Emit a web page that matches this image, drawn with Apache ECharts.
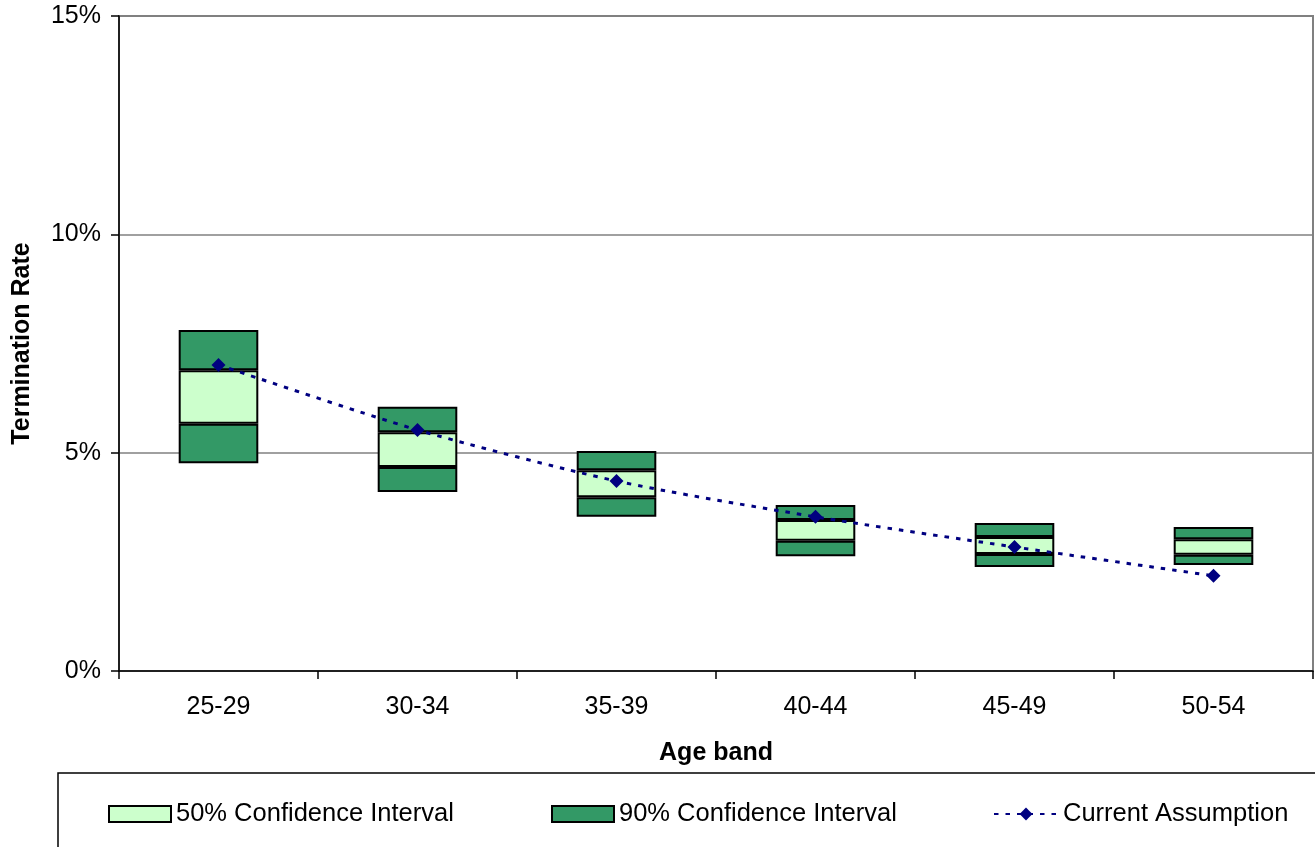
<!DOCTYPE html>
<html><head><meta charset="utf-8">
<script src="https://cdn.jsdelivr.net/npm/echarts@6/dist/echarts.min.js"></script>
<style>html,body{margin:0;padding:0;background:#fff}#c{width:1315px;height:847px}</style>
</head><body><div id="c"></div>
<script>
var categories = ['25-29','30-34','35-39','40-44','45-49','50-54'];
var lower90 = [4.76, 4.10, 3.53, 2.63, 2.38, 2.43];
var lower50 = [5.66, 4.67, 3.98, 2.98, 2.68, 2.66];
var upper50 = [6.89, 5.47, 4.60, 3.46, 3.07, 3.02];
var upper90 = [7.81, 6.05, 5.04, 3.80, 3.39, 3.30];
var current = [7.01, 5.52, 4.35, 3.53, 2.84, 2.18];
var yTicks = [0, 5, 10, 15];

var FONT = 'Liberation Sans, Arial, sans-serif';
var FS = 25;
var dark = '#339966', light = '#CCFFCC', navy = '#000080';
function diff(a, b) { return a.map(function (v, i) { return +(v - b[i]).toFixed(4); }); }
var boxStyle = function (c) { return { color: c, borderColor: '#000', borderWidth: 2 }; };
var legText = { fontFamily: FONT, fontSize: 25.5, color: '#000' };

var chart = echarts.init(document.getElementById('c'));
chart.setOption({
  animation: false,
  textStyle: { fontFamily: FONT },
  grid: { left: 119, right: 2, top: 16, bottom: 176, show: true, borderColor: '#808080', borderWidth: 2, backgroundColor: 'transparent' },
  xAxis: {
    type: 'category', data: categories, boundaryGap: true,
    name: 'Age band', nameLocation: 'middle', nameGap: 70,
    nameTextStyle: { fontFamily: FONT, fontSize: FS, fontWeight: 'bold', color: '#000' },
    axisLine: { lineStyle: { color: '#000', width: 1.5 } },
    axisTick: { show: true, length: 8, lineStyle: { color: '#000', width: 1.5 } },
    axisLabel: { fontFamily: FONT, fontSize: FS, color: '#000', margin: 24 },
    splitLine: { show: false }
  },
  yAxis: {
    type: 'value', min: yTicks[0], max: yTicks[yTicks.length - 1], interval: 5,
    name: 'Termination Rate', nameLocation: 'middle', nameGap: 84, nameRotate: 90,
    nameTextStyle: { fontFamily: FONT, fontSize: FS, fontWeight: 'bold', color: '#000' },
    axisLine: { show: true, lineStyle: { color: '#000', width: 1.5 } },
    axisTick: { show: true, length: 8, lineStyle: { color: '#000', width: 1.5 } },
    axisLabel: { fontFamily: FONT, fontSize: FS, color: '#000', margin: 18, formatter: '{value}%' },
    splitLine: { show: true, lineStyle: { color: '#808080', width: 1.5 } }
  },
  legend: [
    { data: [{ name: '50% Confidence Interval', icon: 'rect' }], left: 108, top: 801, padding: 0, itemWidth: 62, itemHeight: 16, textStyle: legText },
    { data: [{ name: '90% Confidence Interval', icon: 'rect' }], left: 551, top: 801, padding: 0, itemWidth: 62, itemHeight: 16, textStyle: legText },
    { data: ['Current Assumption'], left: 993, top: 801, padding: 0, itemWidth: 64, itemHeight: 16, textStyle: legText }
  ],
  graphic: [
    { type: 'rect', shape: { x: 58, y: 773, width: 1300, height: 120 },
      style: { fill: 'none', stroke: '#000', lineWidth: 1.5 }, silent: true }
  ],
  series: [
    { name: 'base', type: 'bar', stack: 'ci', barWidth: '40%', data: lower90,
      itemStyle: { color: 'transparent' }, silent: true },
    { name: '90% Confidence Interval', type: 'bar', stack: 'ci', data: diff(lower50, lower90), itemStyle: boxStyle(dark) },
    { name: '50% Confidence Interval', type: 'bar', stack: 'ci', data: diff(upper50, lower50), itemStyle: boxStyle(light) },
    { name: '90% Confidence Interval', type: 'bar', stack: 'ci', data: diff(upper90, upper50), itemStyle: boxStyle(dark) },
    { name: 'Current Assumption', type: 'line', data: current, symbol: 'diamond', symbolSize: 14, smooth: 0.25,
      itemStyle: { color: navy }, lineStyle: { color: navy, width: 3, type: [4.5, 7] }, z: 5 }
  ]
});
</script></body></html>
